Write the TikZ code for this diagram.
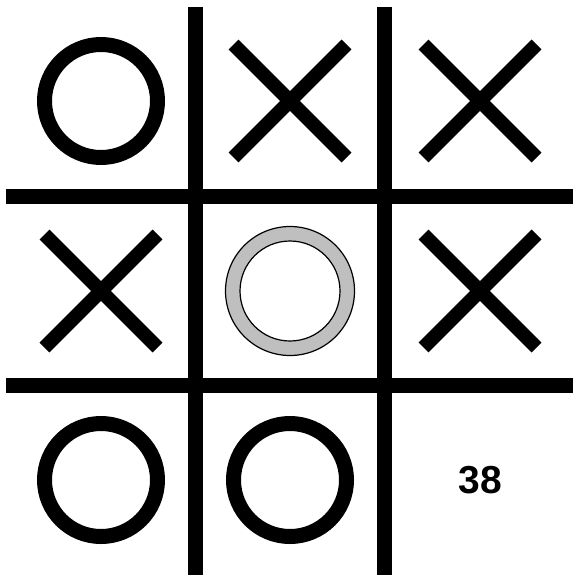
\documentclass[tikz,border=0pt]{standalone}
\usepackage{fontspec}
\setmainfont{Liberation Sans}
\usetikzlibrary{calc}
\begin{document}
\begin{tikzpicture}[x=1pt, y=-1pt, line join=miter]
	\def\R{56.5}
	\def\D{56.5}
	\useasboundingbox (0,0) rectangle (573,575);
	\tikzset{gridline/.style={line width=15pt}, oring/.style={line width=15pt}, xcross/.style={line width=14pt, line cap=butt}}
	% cell centres
	\foreach \name/\x/\y in {a1/101/101, a2/290/101, a3/480/101, b1/101/291, b2/290/291, b3/480/291, c1/101/480, c2/290/480, c3/480/480}
		\coordinate (\name) at (\x,\y);
	% grid
	\draw[gridline] (195,7) -- (195,575);
	\draw[gridline] (384.5,7) -- (384.5,575);
	\draw[gridline] (6,196) -- (573,196);
	\draw[gridline] (6,385.5) -- (573,385.5);
	% noughts
	\foreach \c in {a1, c1, c2} \draw[oring] (\c) circle (\R);
	\filldraw[fill=black!25, even odd rule, line width=1.2pt] (b2) circle (64.5) (b2) circle (50);
	% crosses
	\foreach \c in {a2, a3, b1, b3} {
		\draw[xcross] ($(\c)+(-\D,-\D)$) -- ($(\c)+(\D,\D)$);
		\draw[xcross] ($(\c)+(-\D,\D)$) -- ($(\c)+(\D,-\D)$);
	}
	\node[font=\fontsize{39}{39}\selectfont\bfseries] (num) at (c3) {38};
\end{tikzpicture}
\end{document}
